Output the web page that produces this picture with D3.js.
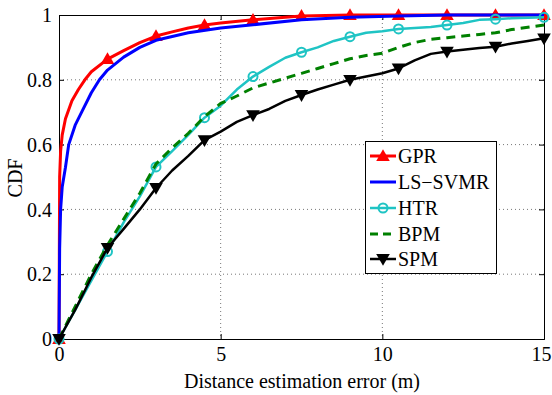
<!DOCTYPE html>
<html><head><meta charset="utf-8">
<script src="https://cdn.jsdelivr.net/npm/d3@7"></script>
<style>body{margin:0;background:#fff}svg{display:block}</style>
</head><body><svg id="c" width="552" height="395" font-family="Liberation Serif"></svg>
<script>
const xTicks=[0,5,10,15];
const yTicks=[0,0.2,0.4,0.6,0.8,1];
const yTickLabels=["0","0.2","0.4","0.6","0.8","1"];
const markerX=[0,1.5,3,4.5,6,7.5,9,10.5,12,13.5,15];
const gprX=[0,0.02,0.05,0.1,0.2,0.4,0.6,0.8,1.0,1.5,2,2.5,3,3.5,4,4.5,5,6,7,7.5,9,10.5,12,13.5,15];
const gprY=[0,0.5,0.58,0.63,0.68,0.735,0.77,0.80,0.825,0.864,0.89,0.915,0.935,0.948,0.96,0.969,0.975,0.985,0.993,0.997,1,1,1,1,1];
const svmX=[0,0.02,0.05,0.1,0.2,0.3,0.5,0.7,1.0,1.25,1.5,2,2.5,3,4,5,6,7.5,9,10.5,12,13.5,15];
const svmY=[0,0.28,0.4,0.47,0.53,0.6,0.66,0.7,0.76,0.8,0.83,0.87,0.9,0.922,0.945,0.96,0.97,0.985,0.993,0.997,1,1,1];
const htrX=[0,0.5,1,1.5,2,2.5,3,3.5,4,4.5,5,5.5,6,6.5,7,7.5,8,8.5,9,9.5,10,10.5,11,11.5,12,12.5,13,13.5,14,15];
const htrY=[0,0.09,0.18,0.27,0.36,0.44,0.531,0.58,0.63,0.683,0.72,0.77,0.81,0.84,0.868,0.885,0.9,0.92,0.933,0.945,0.95,0.957,0.96,0.963,0.969,0.975,0.985,0.987,0.99,0.993];
const bpmX=[0,0.5,1,1.5,2,2.5,3,3.5,4,4.5,5,5.5,6,6.5,7,7.5,8,8.5,9,9.5,10,10.5,11,11.5,12,12.5,13,13.5,14,14.5,15];
const bpmY=[0,0.1,0.2,0.29,0.37,0.45,0.54,0.59,0.635,0.686,0.727,0.75,0.775,0.79,0.805,0.82,0.835,0.85,0.865,0.875,0.882,0.9,0.915,0.925,0.93,0.935,0.94,0.945,0.955,0.962,0.969];
const spmX=[0,0.5,1,1.5,2,2.5,3,3.5,4,4.5,5,5.5,6,6.5,7,7.5,8,8.5,9,9.5,10,10.5,11,11.5,12,12.5,13,13.5,14,14.5,15];
const spmY=[0,0.09,0.19,0.281,0.34,0.4,0.466,0.52,0.565,0.614,0.64,0.67,0.691,0.71,0.735,0.753,0.77,0.785,0.8,0.81,0.82,0.835,0.86,0.88,0.887,0.893,0.898,0.902,0.912,0.92,0.928];
const seriesNames=["GPR","LS\u2212SVMR","HTR","BPM","SPM"];
const colors=["#ff0000","#0000ff","#1fc4c4","#008000","#000000"];

const FONT="Liberation Serif";
const svg=d3.select("#c");
const L=59,R=544,T=15,B=339;
const x=d3.scaleLinear().domain([0,15]).range([L,R]);
const y=d3.scaleLinear().domain([0,1]).range([B,T]);

// grid
const g=svg.append("g");
[5,10].forEach(v=>g.append("line").attr("x1",x(v)).attr("x2",x(v)).attr("y1",T).attr("y2",B).attr("stroke","#777").attr("stroke-dasharray","1,3"));
[0.2,0.4,0.6,0.8].forEach(v=>g.append("line").attr("x1",L).attr("x2",R).attr("y1",y(v)).attr("y2",y(v)).attr("stroke","#777").attr("stroke-dasharray","1,3"));

// axes
const fs=20;
const xa=svg.append("g").attr("transform",`translate(0,${B})`).call(d3.axisBottom(x).tickValues(xTicks).tickSize(-5).tickPadding(8).tickFormat(d3.format("d")));
const xt=svg.append("g").attr("transform",`translate(0,${T})`).call(d3.axisTop(x).tickValues(xTicks).tickSize(-5).tickFormat(""));
const ya=svg.append("g").attr("transform",`translate(${L},0)`).call(d3.axisLeft(y).tickValues(yTicks).tickSize(-5).tickPadding(7).tickFormat((d,i)=>yTickLabels[i]));
const yr=svg.append("g").attr("transform",`translate(${R},0)`).call(d3.axisRight(y).tickValues(yTicks).tickSize(-5).tickFormat(""));
[xa,xt,ya,yr].forEach(a=>{a.attr("font-family",FONT).attr("font-size",fs);a.selectAll("text").attr("font-family",FONT).attr("font-size",fs).attr("fill","#000");a.selectAll("line,path").attr("stroke","#000");});
ya.selectAll("text").attr("dy","0.33em");
xa.selectAll("text").filter(d=>d===15).attr("text-anchor","end").attr("x",7);

svg.append("text").attr("x",302).attr("y",388).attr("text-anchor","middle").attr("font-family",FONT).attr("font-size",fs).text("Distance estimation error (m)");
svg.append("text").attr("transform","translate(22,178) rotate(-90)").attr("text-anchor","middle").attr("font-family",FONT).attr("font-size",fs).text("CDF");

const line=d3.line().x(d=>x(d[0])).y(d=>y(d[1]));
const data=[[gprX,gprY],[svmX,svmY],[htrX,htrY],[bpmX,bpmY],[spmX,spmY]];
const widths=[3,3,2.5,3,2.5];
const valAt=(xs,ys,v)=>ys[xs.indexOf(v)];
const triUp=d3.symbol().type(d3.symbolTriangle).size(80)();
function drawMarker(sel,k,cx,cy){
  if(k===0) sel.append("path").attr("d",triUp).attr("transform",`translate(${cx},${cy+1})`).attr("fill",colors[0]);
  else if(k===2) sel.append("circle").attr("cx",cx).attr("cy",cy).attr("r",4.5).attr("fill","none").attr("stroke",colors[2]).attr("stroke-width",2);
  else if(k===4) sel.append("path").attr("d",triUp).attr("transform",`translate(${cx},${cy-1}) rotate(180)`).attr("fill",colors[4]);
}
data.forEach((s,k)=>{
  const pts=s[0].map((v,i)=>[v,s[1][i]]);
  svg.append("path").datum(pts).attr("d",line).attr("fill","none").attr("stroke",colors[k]).attr("stroke-width",widths[k]).attr("stroke-linejoin","round").attr("stroke-dasharray",k===3?"9,6":null);
  const mg=svg.append("g");
  if(k===0||k===2||k===4) markerX.forEach(mx=>drawMarker(mg,k,x(mx),y(valAt(s[0],s[1],mx))));
});

// legend
const lg=svg.append("g");
lg.append("rect").attr("x",365.5).attr("y",141.5).attr("width",131).attr("height",132).attr("fill","#fff").attr("stroke","#000");
const ly=[156,182,208,234,259];
seriesNames.forEach((n,k)=>{
  lg.append("line").attr("x1",370).attr("x2",396).attr("y1",ly[k]).attr("y2",ly[k]).attr("stroke",colors[k]).attr("stroke-width",widths[k]).attr("stroke-dasharray",k===3?"8,5":null);
  drawMarker(lg,k,383,ly[k]);
  lg.append("text").attr("x",398).attr("y",ly[k]).attr("dy","0.35em").attr("font-family",FONT).attr("font-size",20).text(n);
});
</script></body></html>
